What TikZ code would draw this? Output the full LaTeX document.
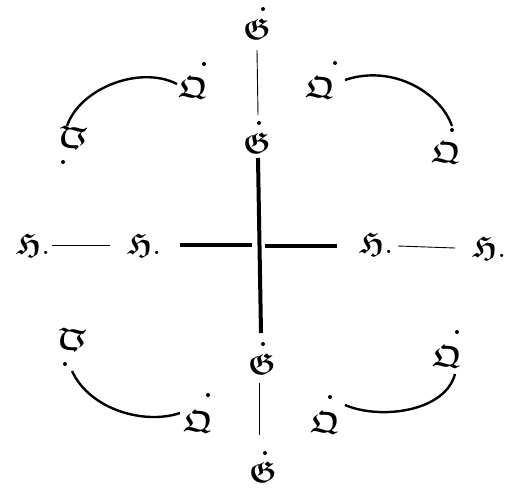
\documentclass[tikz,border=0pt]{standalone}
\usepackage{amsmath,amssymb}
\begin{document}
\begin{tikzpicture}[x=1pt,y=-1pt,
  glyph/.style={inner sep=0pt,scale=3},
  dt/.style={fill=black,draw=none},
  thin/.style={line width=0.9pt},
  arcline/.style={line width=2.4pt},
  thick/.style={line width=4pt}]
\useasboundingbox (0,0) rectangle (506,489);
\newcommand{\fG}{$\boldsymbol{\mathfrak{G}}$}
\newcommand{\fQ}{$\boldsymbol{\mathfrak{Q}}$}
\newcommand{\fH}{$\boldsymbol{\mathfrak{H}}$}
% vertical chain
\node[glyph] (g1) at (257,29) {\fG};
\node[glyph] (g2) at (257,143) {\fG};
\node[glyph] (g3) at (262,364) {\fG};
\node[glyph] (g4) at (263,472) {\fG};
\fill[dt] (263,9) circle (2pt);
\fill[dt] (259,123) circle (2pt);
\fill[dt] (263,344) circle (2pt);
\fill[dt] (265,453) circle (2pt);
\coordinate (c1) at (257,50); \coordinate (c2) at (258,115);
\draw[thin] (c1) -- (c2);
\coordinate (c3) at (259,383); \coordinate (c4) at (259,435);
\draw[thin] (c3) -- (c4);
% central cross
\coordinate (vt) at (258,158); \coordinate (vb) at (261,333);
\draw[thick] (vt) -- (vb);
\coordinate (hl1) at (180,245); \coordinate (hl2) at (252,245);
\coordinate (hr1) at (265,246); \coordinate (hr2) at (337,246);
\draw[thick] (hl1) -- (hl2);
\draw[thick] (hr1) -- (hr2);
% horizontal H's
\node[glyph] (h1) at (33,245) {\fH.};
\node[glyph] (h2) at (144,245) {\fH.};
\node[glyph] (h3) at (376,244) {\fH.};
\node[glyph] (h4) at (489,248) {\fH.};
\coordinate (l1) at (52,245); \coordinate (l2) at (110,245);
\draw[thin] (l1) -- (l2);
\coordinate (r1) at (398,246); \coordinate (r2) at (455,248);
\draw[thin] (r1) -- (r2);
% Q glyphs
\node[glyph] (q1) at (193,88) {\fQ};
\node[glyph] (q2) at (320,88) {\fQ};
\node[glyph] (q3) at (446,153) {\fQ};
\node[glyph] (q4) at (447,357) {\fQ};
\node[glyph] (q5) at (198,422) {\fQ};
\node[glyph] (q6) at (325,423) {\fQ};
\node[glyph,rotate=180] (q7) at (73,138) {\fQ};
\node[glyph,rotate=180] (q8) at (72,340) {\fQ};
\fill[dt] (204,64) circle (2pt);
\fill[dt] (335,63) circle (2pt);
\fill[dt] (452,130) circle (2pt);
\fill[dt] (457,332) circle (2pt);
\fill[dt] (208,395) circle (2pt);
\fill[dt] (330,397) circle (2pt);
\fill[dt] (63,162) circle (2pt);
\fill[dt] (65,364) circle (2pt);
% arcs
\coordinate (a1) at (67,126); \coordinate (a2) at (177,84);
\draw[arcline] (a1) .. controls (80,88) and (140,65) .. (a2);
\coordinate (b1) at (345,80); \coordinate (b2) at (452,126);
\draw[arcline] (b1) .. controls (392,64) and (440,92) .. (b2);
\coordinate (d1) at (72,371); \coordinate (d2) at (180,413);
\draw[arcline] (d1) .. controls (90,410) and (145,425) .. (d2);
\coordinate (e1) at (345,405); \coordinate (e2) at (455,374);
\draw[arcline] (e1) .. controls (380,420) and (445,412) .. (e2);
\end{tikzpicture}
\end{document}
